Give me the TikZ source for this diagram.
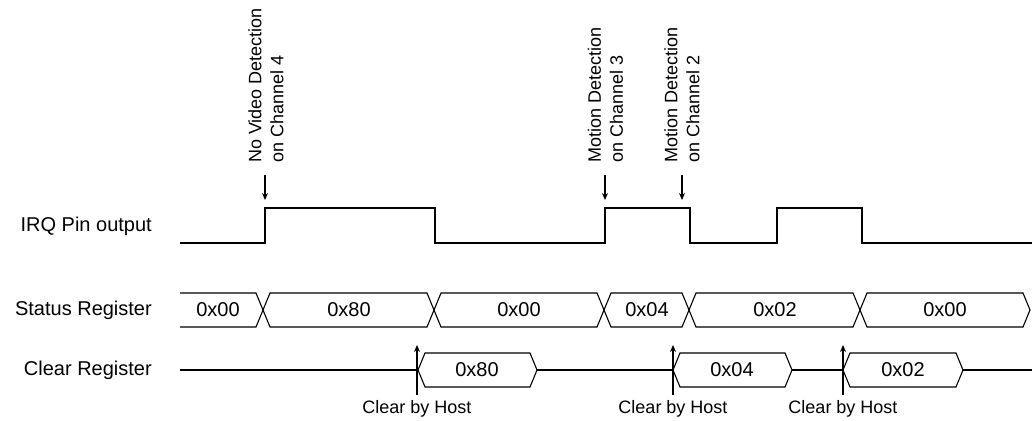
\documentclass[tikz,border=0pt]{standalone}
\usepackage{fontspec}
\setmainfont{Liberation Sans}
\usetikzlibrary{arrows.meta}
\begin{document}
\begin{tikzpicture}[x=1pt,y=-1pt,
  sig/.style={line width=1.1pt, line join=miter},
  lbl/.style={font=\fontsize{20}{24}\selectfont, anchor=east, inner sep=0pt},
  val/.style={font=\fontsize{20}{24}\selectfont, inner sep=0pt},
  ann/.style={font=\fontsize{18}{22}\selectfont, inner sep=0pt, align=left, rotate=90, anchor=west},
  host/.style={font=\fontsize{18}{22}\selectfont, inner sep=0pt},
  evt/.style={line width=1.1pt, -{Stealth[length=7pt,width=6pt]}}]
\useasboundingbox (0,0) rectangle (1032,420);

% row labels
\node[lbl] (irq) at (152,226) {IRQ Pin output};
\node[lbl] (st)  at (152,310) {Status Register};
\node[lbl] (clr) at (152,370) {Clear Register};

% IRQ waveform
\draw[sig] (180,243) -| (265,208) -| (435,243) -| (605,208) -| (690,243) -| (777,208) -| (862,243) -- (1032,243);

% Status register bus
\draw[sig] (180,293) -- (256,293) -- (263,310) -- (256,327) -- (180,327);
\foreach \a/\b in {263/434, 434/604, 604/689, 689/860, 860/1030}{
  \draw[sig] (\a,310) -- (\a+7,293) -- (\b-7,293) -- (\b,310) -- (\b-7,327) -- (\a+7,327) -- cycle;
}
\node[val] (s1) at (218,310) {0x00};
\node[val] (s2) at (349,310) {0x80};
\node[val] (s3) at (519,310) {0x00};
\node[val] (s4) at (647,310) {0x04};
\node[val] (s5) at (775,310) {0x02};
\node[val] (s6) at (945,310) {0x00};

% Clear register bus
\draw[sig] (180,370) -- (418,370);
\draw[sig] (537,370) -- (673,370);
\draw[sig] (792,370) -- (843,370);
\draw[sig] (963,370) -- (1032,370);
\foreach \a/\b in {418/537, 673/792, 843/963}{
  \draw[sig] (\a,370) -- (\a+7,353) -- (\b-7,353) -- (\b,370) -- (\b-7,387) -- (\a+7,387) -- cycle;
}
\node[val] (c1) at (477,370) {0x80};
\node[val] (c2) at (732,370) {0x04};
\node[val] (c3) at (903,370) {0x02};

% clear by host events
\foreach \i/\x in {1/417, 2/673, 3/843}{
  \coordinate (hb\i) at (\x,395);
  \coordinate (ht\i) at (\x,345);
  \draw[evt] (hb\i) -- (ht\i);
  \node[host] (host\i) at (\x,409) {Clear by Host};
}

% detection annotations
\node[ann] (a1) at (266,163) {No Video Detection\\on Channel 4};
\node[ann] (a2) at (605.5,163) {Motion Detection\\on Channel 3};
\node[ann] (a3) at (682,163) {Motion Detection\\on Channel 2};
\foreach \i/\x in {1/265, 2/605, 3/682}{
  \coordinate (eb\i) at (\x,175);
  \coordinate (et\i) at (\x,200);
  \draw[evt] (eb\i) -- (et\i);
}
\end{tikzpicture}
\end{document}
